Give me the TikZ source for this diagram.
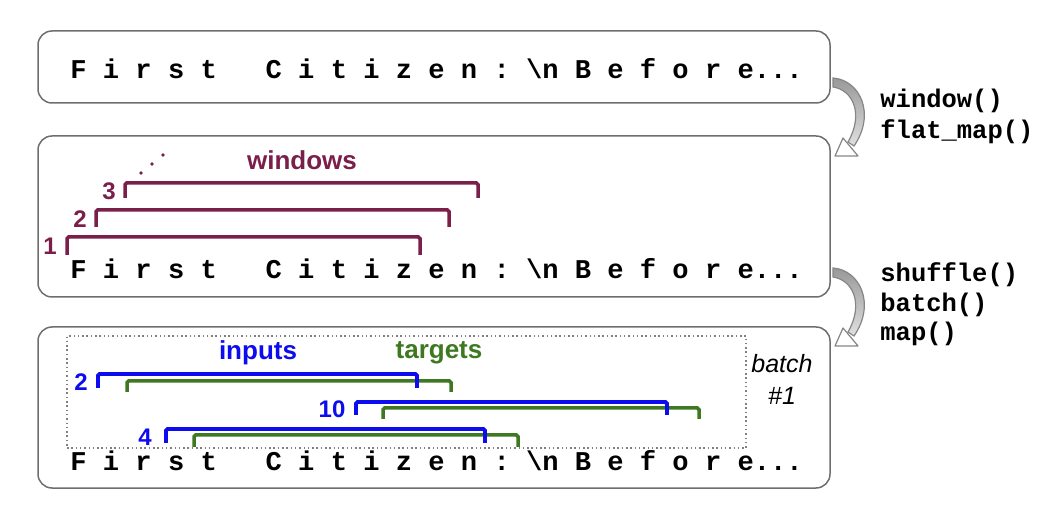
\documentclass[tikz,border=0pt]{standalone}
\usepackage{fontspec}
\setmainfont{Liberation Sans}
\setmonofont{Liberation Mono}
\usetikzlibrary{calc}

\definecolor{wine}{RGB}{122,30,74}
\definecolor{inblue}{RGB}{12,12,238}
\definecolor{tggreen}{RGB}{62,120,32}
\definecolor{boxgray}{RGB}{110,110,110}

\tikzset{
  stagebox/.style={draw=boxgray, line width=0.75pt, rounded corners=7pt,
    minimum width=396pt, inner sep=0pt},
  chars/.style={font=\fontsize{13.56}{16}\selectfont\ttfamily\bfseries,
    anchor=base west, inner sep=0pt},
  oplabel/.style={font=\fontsize{12.75}{15}\selectfont\ttfamily\bfseries,
    anchor=base west, inner sep=0pt},
  winbr/.style={draw=wine, line width=1.75pt, rounded corners=0.8pt},
  inbr/.style={draw=inblue, line width=1.9pt, rounded corners=0.8pt},
  tgbr/.style={draw=tggreen, line width=1.75pt, rounded corners=0.8pt},
  numlabel/.style={font=\fontsize{12}{14}\selectfont\bfseries, inner sep=0pt},
  namelabel/.style={font=\fontsize{13}{15}\selectfont\bfseries, inner sep=0pt},
  bendshaft/.style={draw=gray!95, line width=0.6pt, top color=gray!80, bottom color=gray!25},
  bendhead/.style={draw=gray!95, line width=0.6pt, fill=white, line join=round}
}

\begin{document}
\begin{tikzpicture}[x=0.5pt, y=-0.5pt]
\useasboundingbox (0,0) rectangle (1052,506);

%KASTEN NR. 1 (von oben)
\node[stagebox, minimum height=36pt] (stage1) at (434,67) {};
\node[chars] (text1) at (70,79) {F~i~r~s~t~~~C~i~t~i~z~e~n~:~\textbackslash n~B~e~f~o~r~e...};

%KASTEN NR. 2 (von oben)
\node[stagebox, minimum height=80.5pt] (stage2) at (434,216.5) {};
\node[chars] (text2) at (70,279) {F~i~r~s~t~~~C~i~t~i~z~e~n~:~\textbackslash n~B~e~f~o~r~e...};

%FENSTER 1 BIS 3
\draw[winbr] (67,255) |- (420,237) -- (420,255);
\draw[winbr] (96,227) |- (449,210) -- (449,227);
\draw[winbr] (125,198) |- (478,183) -- (478,198);
\node[numlabel, text=wine] (win1) at (50,246) {1};
\node[numlabel, text=wine] (win2) at (80,219) {2};
\node[numlabel, text=wine] (win3) at (109,191) {3};
\foreach \px/\py in {141/173, 152/164, 163/155}
  \fill[wine] (\px,\py) circle (0.9pt);
\node[namelabel, text=wine] (windows) at (302,160) {windows};

%KASTEN NR. 3 (von oben)
\node[stagebox, minimum height=80.5pt] (stage3) at (434,407.5) {};
\node[chars] (text3) at (70,470) {F~i~r~s~t~~~C~i~t~i~z~e~n~:~\textbackslash n~B~e~f~o~r~e...};
\node[draw=gray, line width=0.75pt, dash pattern=on 0.75pt off 1.4pt,
  minimum width=339.5pt, minimum height=56pt, inner sep=0pt] (batchbox) at (406.5,392) {};
\node[font=\fontsize{12.5}{16}\selectfont\itshape, align=center, inner sep=0pt]
  (batchname) at (782,379) {batch\\\#1};

%ZIELE (gruen) UND EINGABEN (blau)
\draw[tgbr] (127,392) |- (451,381) -- (451,392);
\draw[inbr] (98,388) |- (417,374) -- (417,388);
\draw[tgbr] (383,419) |- (699,408) -- (699,419);
\draw[inbr] (356,415) |- (667,402) -- (667,415);
\draw[tgbr] (194,447) |- (518,435) -- (518,447);
\draw[inbr] (166,443) |- (485,429) -- (485,443);
\node[numlabel, text=inblue] (in2) at (81,382) {2};
\node[numlabel, text=inblue] (in10) at (332,409) {10};
\node[numlabel, text=inblue] (in4) at (145,437) {4};
\node[namelabel, text=inblue] (inputs) at (258,353) {inputs};
\node[namelabel, text=tggreen] (targets) at (439,353) {targets};

%PFEIL NR. 1 (von oben)
\draw[bendshaft] (833,78) .. controls (860,80) and (876,114) .. (854,146)
  -- (848,142) .. controls (864,114) and (853,90) .. (833,87) -- cycle;
\draw[bendhead] (835,156) -- (843,138) -- (858,156) -- cycle;
\node[oplabel] (op1) at (880,108) {window()};
\node[oplabel] (op2) at (880,139) {flat\_map()};

%PFEIL NR. 2 (von oben)
\begin{scope}[shift={(0,190)}]
\draw[bendshaft] (833,78) .. controls (860,80) and (876,114) .. (854,146)
  -- (848,142) .. controls (864,114) and (853,90) .. (833,87) -- cycle;
\draw[bendhead] (835,156) -- (843,138) -- (858,156) -- cycle;
\end{scope}
\node[oplabel] (op3) at (880,282) {shuffle()};
\node[oplabel] (op4) at (880,312) {batch()};
\node[oplabel] (op5) at (880,341) {map()};

\end{tikzpicture}
\end{document}
